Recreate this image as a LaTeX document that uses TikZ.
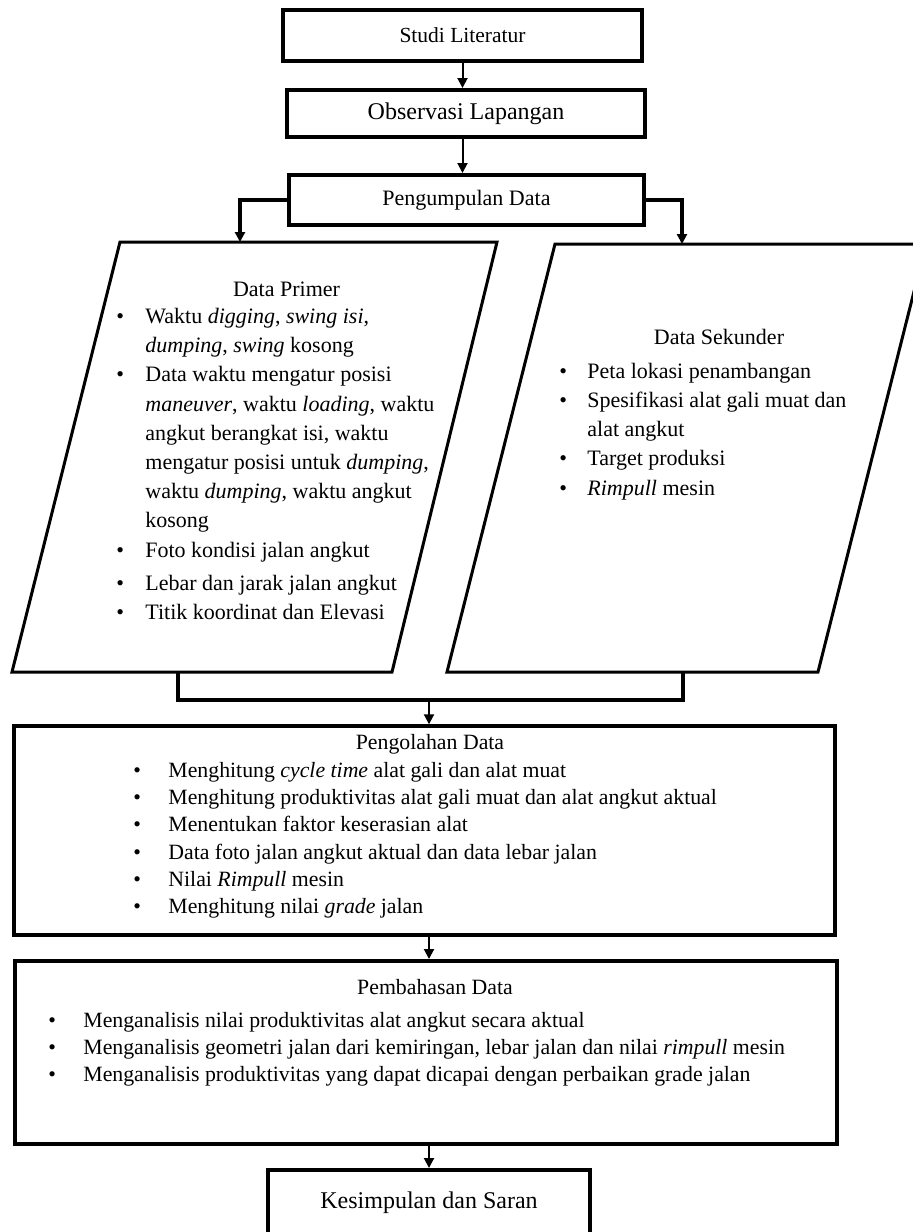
\documentclass[tikz,border=0pt]{standalone}
\usepackage{fontspec}
\setmainfont{Liberation Serif}
\usetikzlibrary{arrows.meta}

\tikzset{
  kotak/.style={draw, line width=2pt, rectangle, inner sep=0pt},
  jajaran/.style={draw, line width=1.5pt, line join=miter},
  teks/.style={inner sep=0pt, font=\fontsize{11}{14.6}\selectfont},
  panah/.style={line width=1pt, -{Triangle[length=5pt,width=5pt]}},
  tebal/.style={line width=2pt},
}

\begin{document}
\begin{tikzpicture}[x=0.5pt,y=-0.5pt]
\useasboundingbox (0,0) rectangle (913,1232);

% tahap awal
\node[kotak, minimum width=179.5pt, minimum height=25.5pt, font=\fontsize{10.75}{13}\selectfont] (studi) at (462.5,35.5) {Studi Literatur};
\node[kotak, minimum width=179pt, minimum height=23.5pt, font=\fontsize{12}{14}\selectfont] (obs) at (466,113.5) {Observasi Lapangan};
\node[kotak, minimum width=177.5pt, minimum height=25pt, font=\fontsize{11}{13}\selectfont] (kumpul) at (466.5,200) {Pengumpulan Data};

% data primer dan sekunder
\draw[jajaran] (120,242) -- (497,242) -- (392,672) -- (12,672) -- cycle;
\draw[jajaran] (555,244) -- (926,244) -- (818,672) -- (447,672) -- cycle;
\coordinate (primer-atas) at (240,242);
\coordinate (primer-bawah) at (178,672);
\coordinate (sekunder-atas) at (682,244);
\coordinate (sekunder-bawah) at (683,672);

\node[teks, anchor=base] (jprimer) at (286.5,296) {Data Primer};
\node[teks, anchor=north west] (lprimer) at (116,302.6) {%
\begin{tabular}{@{}p{14.5pt}@{}l@{}}
\textbullet & Waktu \textit{digging}, \textit{swing isi}, \\
 & \textit{dumping}, \textit{swing} kosong \\
\textbullet & Data waktu mengatur posisi \\
 & \textit{maneuver}, waktu \textit{loading}, waktu \\
 & angkut berangkat isi, waktu \\
 & mengatur posisi untuk \textit{dumping}, \\
 & waktu \textit{dumping}, waktu angkut \\
 & kosong \\
\textbullet & Foto kondisi jalan angkut \\[2pt]
\textbullet & Lebar dan jarak jalan angkut \\
\textbullet & Titik koordinat dan Elevasi
\end{tabular}};

\node[teks, anchor=base] (jsekunder) at (719,344) {Data Sekunder};
\node[teks, anchor=north west] (lsekunder) at (559,357.5) {%
\begin{tabular}{@{}p{14pt}@{}l@{}}
\textbullet & Peta lokasi penambangan \\
\textbullet & Spesifikasi alat gali muat dan \\
 & alat angkut \\
\textbullet & Target produksi \\
\textbullet & \textit{Rimpull} mesin
\end{tabular}};

% pengolahan
\node[kotak, line width=1.7pt, minimum width=410.5pt, minimum height=104.5pt] (olah) at (424.5,830.5) {};
\node[teks, anchor=base, font=\fontsize{10.9}{13.6}\selectfont] (jolah) at (430,749) {Pengolahan Data};
\node[teks, anchor=north west, font=\fontsize{10.9}{13.6}\selectfont] (lolah) at (133,758) {%
\begin{tabular}{@{}p{17.5pt}@{}l@{}}
\textbullet & Menghitung \textit{cycle time} alat gali dan alat muat \\
\textbullet & Menghitung produktivitas alat gali muat dan alat angkut aktual \\
\textbullet & Menentukan faktor keserasian alat \\
\textbullet & Data foto jalan angkut aktual dan data lebar jalan \\
\textbullet & Nilai \textit{Rimpull} mesin \\
\textbullet & Menghitung nilai \textit{grade} jalan
\end{tabular}};

% pembahasan
\node[kotak, minimum width=411pt, minimum height=91.5pt] (bahas) at (426,1052.5) {};
\node[teks, anchor=base, font=\fontsize{10.9}{13.5}\selectfont] (jbahas) at (435,994) {Pembahasan Data};
\node[teks, anchor=north west, font=\fontsize{10.9}{13.5}\selectfont] (lbahas) at (48,1008) {%
\begin{tabular}{@{}p{17.5pt}@{}l@{}}
\textbullet & Menganalisis nilai produktivitas alat angkut secara aktual \\
\textbullet & Menganalisis geometri jalan dari kemiringan, lebar jalan dan nilai \textit{rimpull} mesin \\
\textbullet & Menganalisis produktivitas yang dapat dicapai dengan perbaikan grade jalan
\end{tabular}};

% kesimpulan
\node[kotak, minimum width=161pt, minimum height=33pt, font=\fontsize{12}{14}\selectfont] (simpul) at (429,1203) {Kesimpulan dan Saran};

% penghubung
\draw[panah] (studi.south) -- (studi.south |- obs.north);
\draw[panah] (studi.south |- obs.south) -- (studi.south |- kumpul.north);
\draw[tebal, -{Triangle[length=5pt,width=5pt]}] (kumpul.west) -| (primer-atas);
\draw[tebal, -{Triangle[length=5pt,width=5pt]}] (kumpul.east) -| (sekunder-atas);
\draw[tebal] (primer-bawah) -- ++(0,28) -| (sekunder-bawah);
\coordinate (gabung) at (429,700);
\draw[panah] (gabung) -- (gabung |- olah.north);
\draw[panah] (olah.south -| simpul.north) -- (bahas.north -| simpul.north);
\draw[panah] (bahas.south -| simpul.north) -- (simpul.north);
\end{tikzpicture}
\end{document}
